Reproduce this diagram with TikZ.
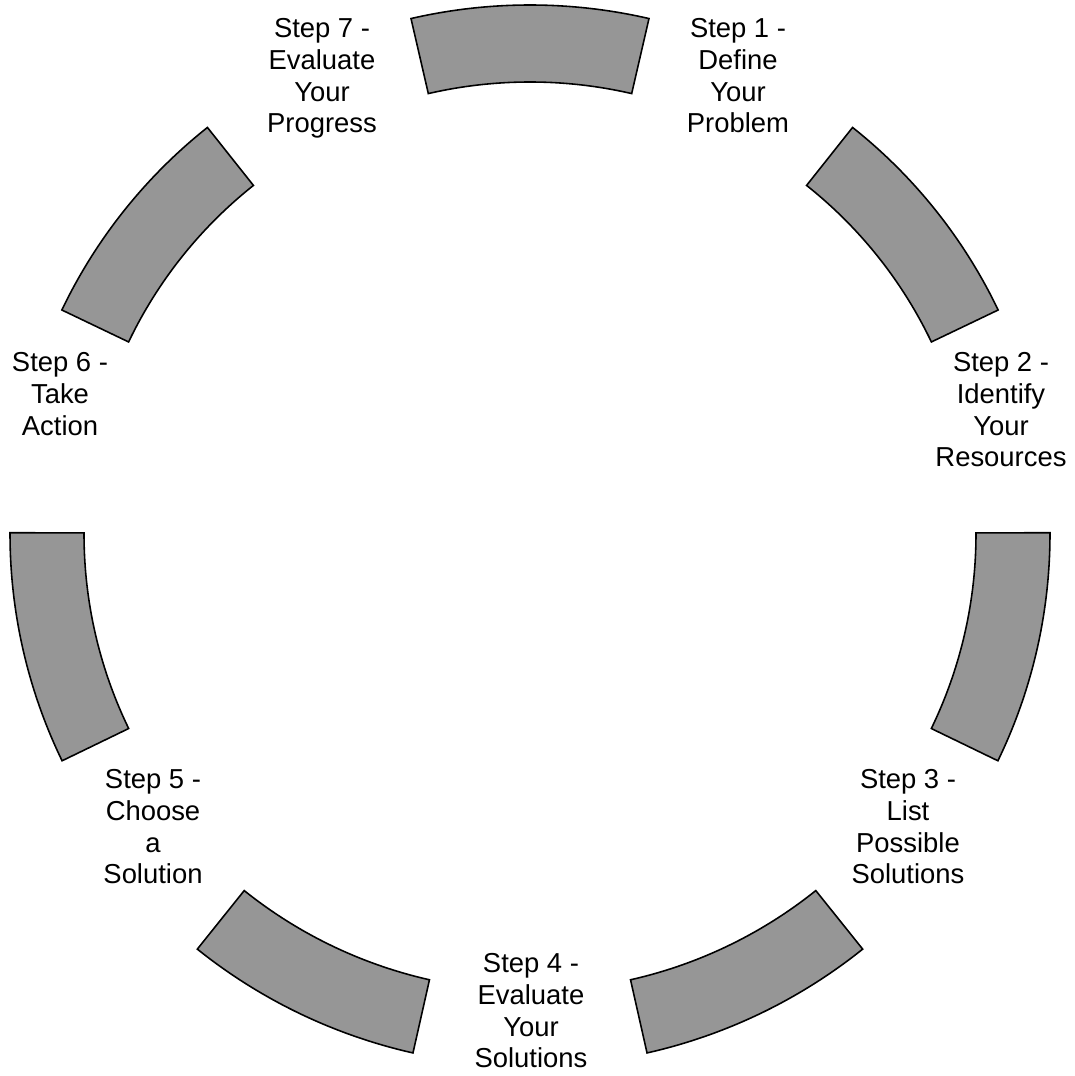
\documentclass[tikz,border=0pt]{standalone}
\usepackage{fontspec}
\setmainfont{Liberation Sans}
\usepackage{tikz}
\definecolor{seggray}{RGB}{150,150,150}

\begin{document}
\begin{tikzpicture}[
	seg/.style={fill=seggray,draw=black,line width=0.45pt,line join=miter},
	lbl/.style={anchor=north,inner sep=0pt,align=center,font=\fontsize{7.8pt}{9pt}\selectfont}]
	\useasboundingbox (0,0) rectangle (10.75,10.76);
	% ring pieces
	\begin{scope}[shift={(5.30,5.42)}]
	\draw[seg] (77:5.29) arc (77:103:5.29) -- (103:4.52) arc (103:77:4.52) -- cycle;
	\draw[seg] (25.57:5.19) arc (25.57:51.57:5.19) -- (51.57:4.45) arc (51.57:25.57:4.45) -- cycle;
	\draw[seg] (-25.86:5.20) arc (-25.86:0.14:5.20) -- (0.14:4.46) arc (0.14:-25.86:4.46) -- cycle;
	\draw[seg] (-77.29:5.32) arc (-77.29:-51.29:5.32) -- (-51.29:4.57) arc (-51.29:-77.29:4.57) -- cycle;
	\draw[seg] (-128.71:5.32) arc (-128.71:-102.71:5.32) -- (-102.71:4.57) arc (-102.71:-128.71:4.57) -- cycle;
	\draw[seg] (-180.14:5.20) arc (-180.14:-154.14:5.20) -- (-154.14:4.46) arc (-154.14:-180.14:4.46) -- cycle;
	\draw[seg] (128.43:5.19) arc (128.43:154.43:5.19) -- (154.43:4.45) arc (154.43:128.43:4.45) -- cycle;
	\end{scope}
	% step labels
	\node[lbl] (define) at (7.38, 10.58) {Step 1 -\\Define\\Your\\Problem};
	\node[lbl] (identify) at (10.01, 7.24) {Step 2 -\\Identify\\Your\\Resources};
	\node[lbl] (list) at (9.08, 3.07) {Step 3 -\\List\\Possible\\Solutions};
	\node[lbl] (evalsol) at (5.31, 1.23) {Step 4 -\\Evaluate\\Your\\Solutions};
	\node[lbl] (choose) at (1.53, 3.07) {Step 5 -\\Choose\\a\\Solution};
	\node[lbl] (action) at (0.60, 7.24) {Step 6 -\\Take\\Action};
	\node[lbl] (evalprog) at (3.22, 10.58) {Step 7 -\\Evaluate\\Your\\Progress};
\end{tikzpicture}
\end{document}
